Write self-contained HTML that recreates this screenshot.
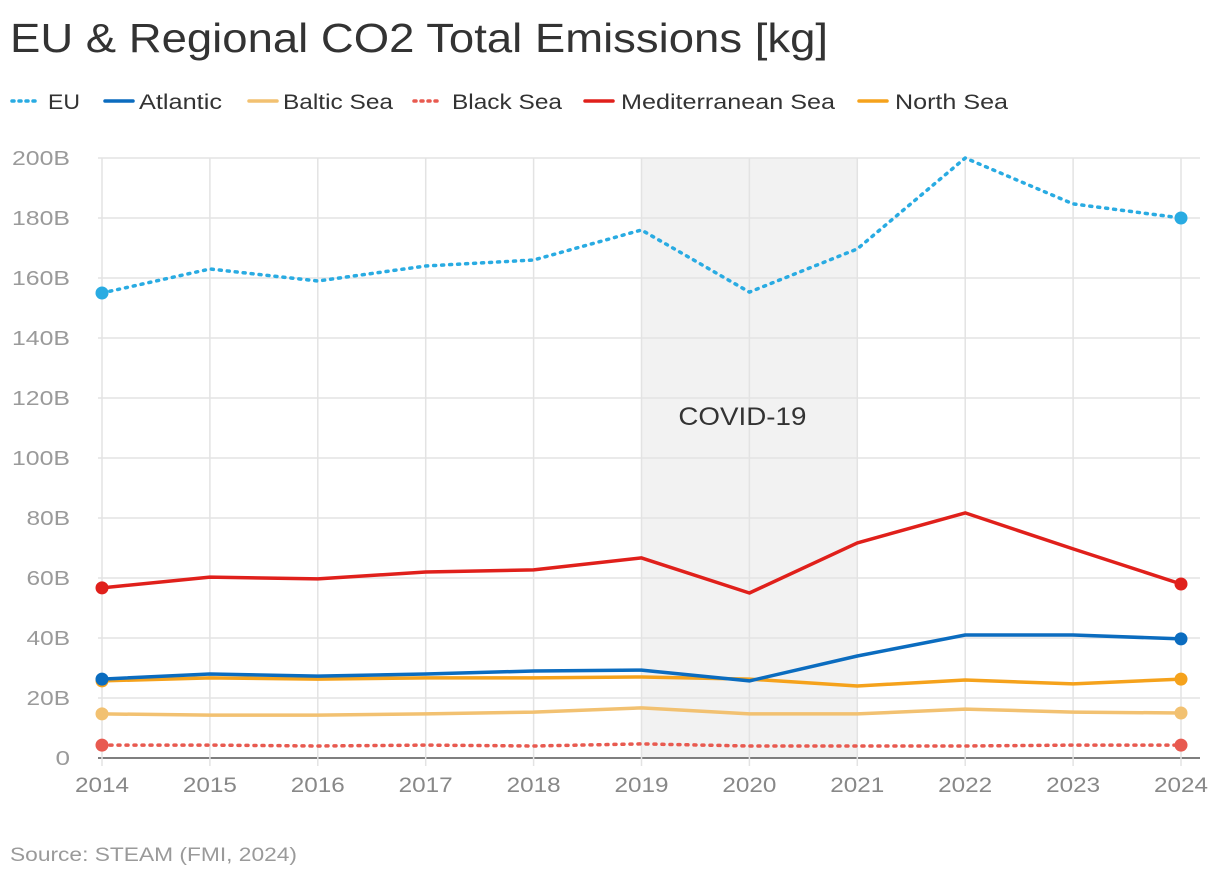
<!DOCTYPE html>
<html><head><meta charset="utf-8"><style>
body{margin:0;background:#fff;width:1220px;height:878px;overflow:hidden;font-family:"Liberation Sans",sans-serif}
</style></head><body>
<svg id="chart" width="1220" height="878" xmlns="http://www.w3.org/2000/svg"></svg>
<script>
const years=[2014,2015,2016,2017,2018,2019,2020,2021,2022,2023,2024];
const euVals=[155,163,159,164,166,176,155.3,169.7,200,184.7,180];
const atlanticVals=[26.3,28,27.3,28,29,29.3,25.7,34,41,41,39.7];
const balticVals=[14.7,14.3,14.3,14.7,15.3,16.7,14.7,14.7,16.3,15.3,15];
const blackVals=[4.3,4.3,4,4.3,4,4.7,4,4,4,4.3,4.3];
const medVals=[56.7,60.3,59.7,62,62.7,66.7,55,71.7,81.7,69.7,58];
const northVals=[25.7,26.7,26.3,26.7,26.7,27,26.3,24,26,24.7,26.3];
const yTicks=[0,20,40,60,80,100,120,140,160,180,200];
const covidRange=[2019,2021];
const NS="http://www.w3.org/2000/svg";
const svg=document.getElementById('chart');
const x=y=>102+(y-2014)*(1181-102)/10;
const yv=v=>758-v*3;
function mk(tag,attrs,parent){const e=document.createElementNS(NS,tag);for(const k in attrs)e.setAttribute(k,attrs[k]);(parent||svg).appendChild(e);return e;}
let t=mk('text',{x:10,y:52,'font-size':41,fill:'#333',textLength:818,lengthAdjust:'spacingAndGlyphs'});t.textContent='EU & Regional CO2 Total Emissions [kg]';


const band=mk('rect',{x:x(covidRange[0]),y:yv(200),width:x(covidRange[1])-x(covidRange[0]),height:yv(0)-yv(200),fill:'#f2f2f2'});


yTicks.forEach(v=>{
 const l=mk('line',{x1:98,x2:1200,y1:yv(v),y2:yv(v),stroke:v===0?'#555':'#e3e3e3','stroke-width':1.5});
 
 
 const lab=v===0?'0':v+'B';
 const tx=mk('text',{x:70,y:yv(v)+7,'font-size':20,fill:'#9a9a9a','text-anchor':'end',textLength:lab.length*14.5,lengthAdjust:'spacingAndGlyphs'});tx.textContent=lab;
 
 
});
years.forEach(yr=>{
 const l=mk('line',{x1:x(yr),x2:x(yr),y1:yv(200),y2:yv(0)+8,stroke:'#e3e3e3','stroke-width':1.5});
 
 
 const tx=mk('text',{x:x(yr),y:792,'font-size':21,fill:'#888','text-anchor':'middle',textLength:54,lengthAdjust:'spacingAndGlyphs'});tx.textContent=yr;
 
 
});
const ct=mk('text',{x:(x(covidRange[0])+x(covidRange[1]))/2-7,y:425,'font-size':25,fill:'#333','text-anchor':'middle',textLength:128,lengthAdjust:'spacingAndGlyphs'});ct.textContent='COVID-19';


const series=[
 {name:'EU',vals:euVals,color:'#29abe2',dash:'2 6',key:'eu'},
 {name:'Atlantic',vals:atlanticVals,color:'#0b6cbf',dash:null,key:'atlantic'},
 {name:'Baltic Sea',vals:balticVals,color:'#f2c171',dash:null,key:'baltic-sea'},
 {name:'Black Sea',vals:blackVals,color:'#e85a50',dash:'2 6',key:'black-sea'},
 {name:'Mediterranean Sea',vals:medVals,color:'#e0201b',dash:null,key:'mediterranean-sea'},
 {name:'North Sea',vals:northVals,color:'#f5a21c',dash:null,key:'north-sea'}];
const order=[2,3,5,1,4,0];
order.forEach(i=>{const s=series[i];
 const p=mk('polyline',{points:years.map((yr,j)=>x(yr)+','+yv(s.vals[j])).join(' '),fill:'none',stroke:s.color,'stroke-width':3.5,'stroke-linecap':'round','stroke-linejoin':'round'});
 if(s.dash)p.setAttribute('stroke-dasharray',s.dash);
 
 
 [0,years.length-1].forEach(j=>{const c=mk('circle',{cx:x(years[j]),cy:yv(s.vals[j]),r:6.5,fill:s.color});
  
  });
});
const legLine=[10,103,247,412,583,857];
const legText=[[48,32],[139,83],[283,110],[452,110],[621,214],[895,113]];
series.forEach((s,i)=>{
 const g=mk('g',{});
 
 
 const l=mk('line',{x1:legLine[i]+2,x2:legLine[i]+30,y1:101,y2:101,stroke:s.color,'stroke-width':3.5,'stroke-linecap':'round'},g);
 if(s.dash)l.setAttribute('stroke-dasharray','2 5');
 const tx=mk('text',{x:legText[i][0],y:109,'font-size':21,fill:'#333',textLength:legText[i][1],lengthAdjust:'spacingAndGlyphs'},g);tx.textContent=s.name;
});
const src=mk('text',{x:10,y:861,'font-size':19,fill:'#9a9a9a',textLength:287,lengthAdjust:'spacingAndGlyphs'});src.textContent='Source: STEAM (FMI, 2024)';


</script>
</body></html>
